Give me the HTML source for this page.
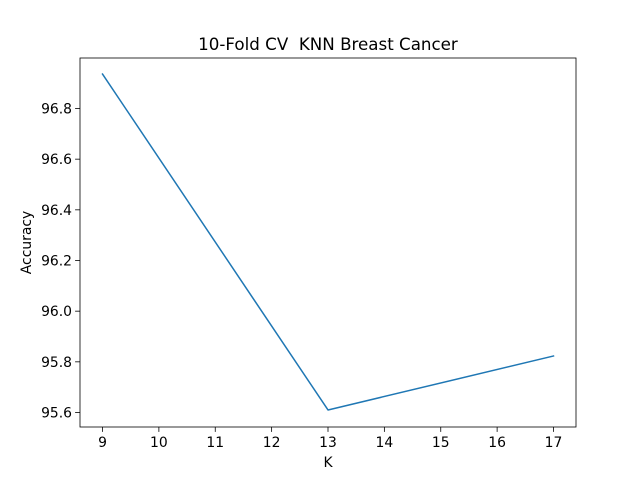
<!DOCTYPE html>
<html><head><meta charset="utf-8"><style>
body{margin:0;background:#fff;}
svg text{font-family:"DejaVu Sans","Liberation Sans",sans-serif;fill:#000;}
</style></head><body>
<svg width="640" height="480" xmlns="http://www.w3.org/2000/svg">
<rect x="0" y="0" width="640" height="480" fill="#fff"/>
<g id="g"></g>
<text x="328" y="50" text-anchor="middle" font-size="16.7">10-Fold CV&#160; KNN Breast Cancer</text>
<text x="328" y="467" text-anchor="middle" font-size="13.9">K</text>
<text transform="translate(31,242.5) rotate(-90)" text-anchor="middle" font-size="13.9">Accuracy</text>
</svg>
<script>
const kValues = [9, 13, 17];
const accuracy = [96.936, 95.61, 95.823];
const xTicks = [9, 10, 11, 12, 13, 14, 15, 16, 17];
const yTicks = [95.6, 95.8, 96.0, 96.2, 96.4, 96.6, 96.8];
const L=80,R=576,T=58,B=427;
function xs(v){return 102.5+(v-9)*(553.5-102.5)/8;}
function ys(v){return 412.5-(v-95.6)*(412.5-108.5)/1.2;}
const NS="http://www.w3.org/2000/svg";
const g=document.getElementById('g');
function mk(t,a){const e=document.createElementNS(NS,t);for(const k in a)e.setAttribute(k,a[k]);g.appendChild(e);return e;}
xTicks.forEach(v=>{
  const x=xs(v);
  const t=mk('line',{x1:x,x2:x,y1:B,y2:B+4.9,stroke:'#000','stroke-width':0.8});
  
  
  const l=mk('text',{x:x,y:B+20,'text-anchor':'middle','font-size':13.9});
  l.textContent=v;
  
  
});
yTicks.forEach(v=>{
  const y=ys(v);
  const t=mk('line',{x1:L-4.9,x2:L,y1:y,y2:y,stroke:'#000','stroke-width':0.8});
  
  
  const l=mk('text',{x:L-8,y:y+5,'text-anchor':'end','font-size':13.9});
  l.textContent=v.toFixed(1);
  
  
});
const p=mk('polyline',{points:kValues.map((k,i)=>xs(k)+','+ys(accuracy[i])).join(' '),fill:'none',stroke:'#1f77b4','stroke-width':1.5,'stroke-linejoin':'round','stroke-linecap':'square'});


const f=mk('rect',{x:L,y:T,width:R-L,height:B-T,fill:'none',stroke:'#000','stroke-width':0.8});


</script>
</body></html>
